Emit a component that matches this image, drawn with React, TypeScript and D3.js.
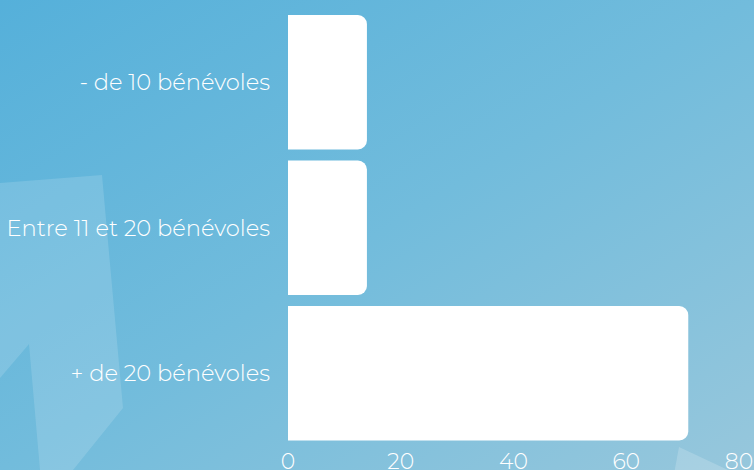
import React from "react";
import * as d3 from "d3";

const categories = ["- de 10 bénévoles", "Entre 11 et 20 bénévoles", "+ de 20 bénévoles"];
const values = [14, 14, 71];
const ticks = [0, 20, 40, 60, 80];

const W = 754;
const H = 470;

function roundedRightBar(x0: number, y0: number, w: number, h: number, r: number) {
  const rr = Math.min(r, w, h / 2);
  const p = d3.path();
  p.moveTo(x0, y0);
  p.lineTo(x0 + w - rr, y0);
  p.arcTo(x0 + w, y0, x0 + w, y0 + rr, rr);
  p.lineTo(x0 + w, y0 + h - rr);
  p.arcTo(x0 + w, y0 + h, x0 + w - rr, y0 + h, rr);
  p.lineTo(x0, y0 + h);
  p.closePath();
  return p.toString();
}

export default function App() {
  const x = d3.scaleLinear().domain([0, 80]).range([288, 739]);
  const y = d3
    .scaleBand<string>()
    .domain(categories)
    .range([9.5, 446])
    .paddingInner(0.076)
    .paddingOuter(0.038);

  const font = "Montserrat, 'DejaVu Sans', sans-serif";

  return (
    <div style={{ position: "absolute", left: 0, top: 0 }}>
      <svg width={W} height={H} style={{ display: "block" }}>
        <defs>
          <linearGradient id="bg" x1="0" y1="0" x2="1" y2="1" gradientUnits="objectBoundingBox">
            <stop offset="0" stopColor="#55b0da" />
            <stop offset="0.5" stopColor="#72bcdc" />
            <stop offset="1" stopColor="#97c7dc" />
          </linearGradient>
        </defs>
        <rect x={0} y={0} width={W} height={H} fill="url(#bg)" />
        <polygon
          points="0,183 102,175 123,408 73,470 40,470 29,344 0,378"
          fill="#ffffff"
          fillOpacity={0.14}
        />
        <polygon points="679,447 760,485 672,485" fill="#ffffff" fillOpacity={0.18} />
        {categories.map((c, i) => (
          <path
            key={c}
            d={roundedRightBar(x(0), y(c)!, x(values[i]) - x(0), y.bandwidth(), 9)}
            fill="#ffffff"
          />
        ))}
        {categories.map((c) => (
          <text
            key={c}
            x={270}
            y={y(c)! + y.bandwidth() / 2}
            dy="0.35em"
            textAnchor="end"
            fill="#ffffff"
            fontFamily={font}
            fontWeight={300}
            fontSize={22.6}
          >
            {c}
          </text>
        ))}
        {ticks.map((t) => (
          <text
            key={t}
            x={x(t)}
            y={469}
            textAnchor="middle"
            fill="#ffffff"
            fontFamily={font}
            fontWeight={300}
            fontSize={22}
          >
            {t}
          </text>
        ))}
      </svg>
    </div>
  );
}
